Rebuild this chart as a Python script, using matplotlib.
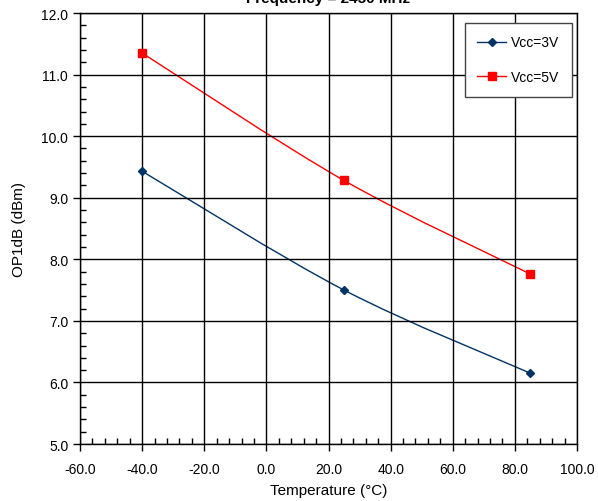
import numpy as np
import matplotlib.pyplot as plt
from matplotlib.path import Path
from matplotlib.patches import PathPatch
from matplotlib.lines import Line2D
from matplotlib.ticker import MultipleLocator

plt.rcParams['font.family'] = ['Liberation Sans', 'DejaVu Sans']

# data
temps = [-40, 25, 85]
vcc3 = [9.43, 7.50, 6.15]
vcc5 = [11.35, 9.28, 7.76]


def smooth_path(x, y):
    # Excel-like smoothed line (Catmull-Rom as cubic Bezier)
    p = np.column_stack([x, y]).astype(float)
    ext = np.vstack([p[0], p, p[-1]])
    verts = [p[0]]
    codes = [Path.MOVETO]
    for i in range(len(p) - 1):
        p0, p1, p2, p3 = ext[i], ext[i + 1], ext[i + 2], ext[i + 3]
        c1 = p1 + (p2 - p0) / 6
        c2 = p2 - (p3 - p1) / 6
        verts += [c1, c2, p2]
        codes += [Path.CURVE4] * 3
    return Path(verts, codes)


fig = plt.figure(figsize=(5.98, 5.02), dpi=100)
ax = fig.add_axes([0.1338, 0.1135, 0.8311, 0.8586])

styles = [(vcc3, '#003366', 'D', 4.5), (vcc5, '#FF0000', 's', 6)]
for y, col, mk, ms in styles:
    ax.add_patch(PathPatch(smooth_path(temps, y), fill=False, edgecolor=col, lw=1))
    ax.plot(temps, y, linestyle='None', color=col, marker=mk, markersize=ms, zorder=3)

handles = [Line2D([], [], color=c, marker=m, markersize=ms, lw=1) for _, c, m, ms in styles]
leg = ax.legend(handles, ['Vcc=3V', 'Vcc=5V'], loc='upper right',
                bbox_to_anchor=(0.990, 0.977), borderaxespad=0, fancybox=False,
                framealpha=1, edgecolor='#444444', fontsize=10, labelspacing=1.5,
                handlelength=2.1, handletextpad=0.35, borderpad=0.9)
leg.get_frame().set_linewidth(1)

ax.set_xlim(-60, 100)
ax.set_ylim(5, 12)
ax.xaxis.set_major_locator(MultipleLocator(20))
ax.xaxis.set_minor_locator(MultipleLocator(4))
ax.yaxis.set_major_locator(MultipleLocator(1))
ax.yaxis.set_minor_locator(MultipleLocator(0.2))
ax.xaxis.set_major_formatter(lambda v, p: f"{v:.1f}")
ax.yaxis.set_major_formatter(lambda v, p: f"{v:.1f}")
ax.tick_params(which='major', direction='out', length=5, width=1, labelsize=10)
ax.tick_params(axis='x', which='major', pad=8)
ax.tick_params(which='minor', direction='in', length=4, width=1)
ax.grid(True, which='major', color='black', lw=1)
for s in ax.spines.values():
    s.set_linewidth(1)

ax.set_xlabel('Temperature (°C)', fontsize=11, labelpad=5)
ax.set_ylabel('OP1dB (dBm)', fontsize=11, labelpad=11)
fig.text(0.549, 1 - 3 / 502, 'Frequency = 2450 MHz', ha='center', va='baseline',
         fontsize=11, fontweight='bold')

fig.savefig('out.png', dpi=100)
